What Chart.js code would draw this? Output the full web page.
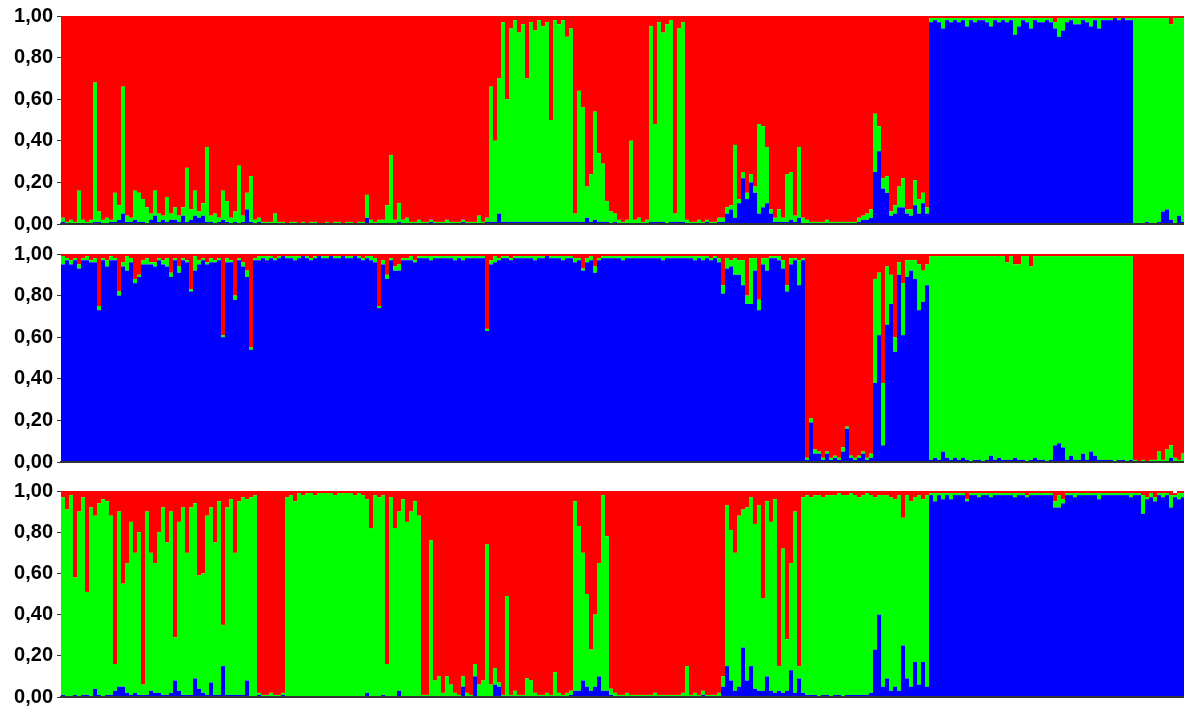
<!DOCTYPE html>
<html>
<head>
<meta charset="utf-8">
<script src="https://cdn.jsdelivr.net/npm/chart.js@4.4.1/dist/chart.umd.min.js"></script>
<style>
html,body{margin:0;padding:0;background:#fff;width:1184px;height:713px;overflow:hidden}
canvas{position:absolute;left:0}
</style>
</head>
<body>
<canvas id="c1" width="1185" height="240" style="top:0px"></canvas>
<canvas id="c2" width="1185" height="240" style="top:238px"></canvas>
<canvas id="c3" width="1185" height="238" style="top:475px"></canvas>
<script>
// Membership coefficients (in %) per individual, three clusters, three runs (panels)
const yTicks = ['0,00', '0,20', '0,40', '0,60', '0,80', '1,00'];

const p1Red = [
97,99,98,99,84,98,99,98,32,94,
98,97,98,85,91,34,96,97,84,85,
88,92,95,84,95,96,87,95,92,96,
92,73,93,84,94,90,63,96,95,97,
84,89,97,94,72,96,85,77,98,97,
99,99,99,95,99,99,100,99,99,100,
99,100,99,99,100,100,99,100,99,99,
100,99,99,100,99,99,86,98,99,98,
98,91,67,98,90,98,97,99,99,98,
99,99,98,99,99,99,98,99,99,99,
98,99,99,99,96,99,97,34,60,30,
3,40,6,2,8,4,30,3,7,2,
5,3,50,2,4,2,10,6,95,36,
44,82,76,46,66,71,89,94,95,98,
99,98,60,98,97,99,98,5,52,3,
8,4,2,95,6,3,98,99,99,98,
99,98,99,99,97,97,92,91,62,88,
75,85,76,82,52,53,63,93,97,93,
97,76,75,96,63,97,98,99,99,99,
99,98,99,99,99,99,99,99,99,97,
96,95,93,47,53,78,77,94,91,82,
78,93,93,79,88,85,92,1,1,1,
1,1,1,1,1,1,1,1,1,1,
1,1,1,1,1,1,1,1,1,1,
1,1,1,1,1,1,1,1,3,1,
1,1,1,1,1,1,1,1,1,1,
1,1,1,1,1,1,1,1,1,1,
1,1,1,1,1,1,1,4,1,1,1];
const p1Green = [
2,1,2,1,16,2,1,2,67,5,
2,3,1,14,7,61,3,2,14,14,
11,8,3,12,4,2,12,3,6,3,
4,26,5,12,3,6,36,3,5,2,
14,10,3,5,28,3,8,22,2,2,
1,1,1,5,1,1,0,1,1,0,
1,0,1,1,0,0,1,0,1,1,
0,1,1,0,1,1,11,2,1,2,
2,9,33,2,9,2,3,1,1,2,
1,1,1,1,1,1,2,1,1,1,
1,1,1,1,4,1,2,65,39,65,
96,59,93,97,91,95,69,96,92,97,
94,96,49,97,95,97,89,93,4,63,
55,15,23,52,33,28,10,6,4,2,
1,2,40,2,3,1,2,94,47,96,
91,96,97,4,93,96,2,1,1,2,
1,1,1,1,2,2,3,2,35,2,
3,3,4,3,43,39,27,2,2,6,
2,23,23,3,34,3,2,1,1,1,
1,2,1,1,1,1,1,1,1,2,
2,3,4,28,12,5,8,2,4,10,
14,2,3,12,7,5,3,2,1,2,
5,1,2,1,2,1,4,1,2,1,
1,2,4,1,2,1,2,1,8,4,
1,2,5,1,2,2,1,2,3,9,
6,2,1,3,3,1,2,4,1,5,
1,1,1,0,1,0,1,1,99,99,
99,98,99,99,98,93,92,94,99,95,98];
const p1Blue = [
1,0,0,0,0,0,0,0,1,1,
0,0,1,1,2,5,1,1,2,1,
1,0,2,4,1,2,1,2,2,1,
4,1,2,4,3,4,1,1,0,1,
2,1,0,1,0,1,7,1,0,1,
0,0,0,0,0,0,0,0,0,0,
0,0,0,0,0,0,0,0,0,0,
0,0,0,0,0,0,3,0,0,0,
0,0,0,0,1,0,0,0,0,0,
0,0,1,0,0,0,0,0,0,0,
1,0,0,0,0,0,1,1,1,5,
1,1,1,1,1,1,1,1,1,1,
1,1,1,1,1,1,1,1,1,1,
1,3,1,2,1,1,1,0,1,0,
0,0,0,0,0,0,0,1,1,1,
1,0,1,1,1,1,0,0,0,0,
0,1,0,0,1,1,5,7,3,10,
22,12,20,15,5,8,10,5,1,1,
1,1,2,1,3,0,0,0,0,0,
0,0,0,0,0,0,0,0,0,1,
2,2,3,25,35,17,15,4,5,8,
8,5,4,9,5,10,5,97,98,97,
94,98,97,98,97,98,95,98,97,98,
98,97,95,98,97,98,97,98,91,95,
98,97,94,98,97,97,98,97,94,90,
93,97,98,96,96,98,97,95,98,94,
98,98,98,99,98,99,98,98,0,0,
0,1,0,0,1,6,7,2,0,4,1];

const p2Red = [
1,2,3,2,5,2,1,3,2,25,
2,3,1,2,18,4,1,2,12,10,
3,2,4,4,2,3,2,9,2,6,
2,3,17,1,3,2,4,2,3,2,
39,2,3,20,2,4,8,45,2,1,
1,1,1,2,1,1,1,1,1,1,
1,1,2,1,1,1,1,1,1,1,
1,1,1,1,1,2,1,1,2,25,
3,10,2,6,5,2,2,1,3,1,
1,1,1,1,1,1,1,1,1,1,
1,1,1,1,1,1,36,3,1,2,
1,1,2,1,1,1,1,1,1,1,
1,1,1,1,1,1,1,1,2,2,
7,2,1,6,2,1,1,1,1,1,
1,1,1,1,1,1,1,1,1,1,
1,1,1,1,1,1,1,1,1,1,
1,1,2,1,2,15,2,3,2,3,
3,20,2,2,22,2,2,1,1,1,
3,15,2,2,3,2,98,79,94,95,
98,95,98,97,98,93,83,97,98,97,
95,98,96,12,9,62,6,10,40,4,
14,3,3,3,5,8,5,1,1,1,
1,1,1,1,1,1,1,1,1,1,
1,1,1,1,1,1,4,1,5,5,
1,1,6,1,1,1,1,1,1,1,
1,1,1,1,1,1,1,1,1,1,
1,1,1,1,1,1,1,1,99,100,
99,100,99,99,95,99,94,92,98,99,96];
const p2Green = [
4,1,2,1,2,1,2,1,2,2,
1,3,2,1,2,2,7,2,2,1,
2,3,1,2,1,2,4,2,1,3,
1,1,1,7,2,1,1,2,1,1,
1,2,1,2,1,2,3,1,1,2,
1,2,1,1,1,0,1,1,2,1,
0,1,1,1,0,1,1,0,1,1,
0,1,1,0,1,1,1,2,2,1,
2,2,1,2,3,1,1,2,1,1,
1,1,2,1,1,1,1,1,2,1,
2,1,1,1,1,1,1,2,3,1,
1,1,1,1,1,1,1,1,2,1,
1,0,1,1,1,2,1,1,2,1,
1,2,2,3,1,1,1,1,1,1,
2,1,1,1,1,1,1,1,1,1,
2,1,1,1,1,1,1,1,2,1,
2,1,1,1,2,4,5,3,8,7,
12,4,22,6,5,3,6,1,1,2,
4,3,3,1,12,1,1,2,2,1,
1,1,1,1,1,2,1,1,1,1,
1,1,2,50,30,30,28,14,7,6,
25,8,5,9,22,15,10,98,97,98,
94,97,98,97,98,97,98,99,98,98,
99,98,96,98,97,98,95,98,93,94,
98,99,93,97,98,98,99,98,91,90,
92,98,96,98,98,95,98,94,96,98,
98,98,98,99,98,98,99,98,1,0,
1,0,1,1,5,1,6,6,2,1,4];
const p2Blue = [
95,97,95,97,93,97,97,96,96,73,
97,94,97,97,80,94,92,96,86,89,
95,95,95,94,97,95,94,89,97,91,
97,96,82,92,95,97,95,96,96,97,
60,96,96,78,97,94,89,54,97,97,
98,97,98,97,98,99,98,98,97,98,
99,98,97,98,99,98,98,99,98,98,
99,98,98,99,98,97,98,97,96,74,
95,88,97,92,92,97,97,97,96,98,
98,98,97,98,98,98,98,98,97,98,
97,98,98,98,98,98,63,95,96,97,
98,98,97,98,98,98,98,98,97,98,
98,99,98,98,98,97,98,98,96,97,
92,96,97,91,97,98,98,98,98,98,
97,98,98,98,98,98,98,98,98,98,
97,98,98,98,98,98,98,98,97,98,
97,98,97,98,96,81,93,94,90,90,
85,76,76,92,73,95,92,98,98,97,
93,82,95,97,85,97,1,19,4,4,
1,4,1,2,1,5,16,2,1,2,
4,1,2,38,61,8,66,76,53,90,
61,89,92,88,73,77,85,1,2,1,
5,2,1,2,1,2,1,0,1,1,
0,1,3,1,2,1,1,1,2,1,
1,0,1,2,1,1,0,1,8,9,
7,1,3,1,1,4,1,5,3,1,
1,1,1,0,1,1,0,1,0,0,
0,0,0,0,0,0,0,2,0,0,0];

const p3Red = [
3,9,2,42,10,3,49,8,12,6,
4,5,12,84,10,45,35,15,30,20,
94,10,30,35,20,8,25,10,71,15,
8,30,8,6,41,40,12,8,25,5,
65,8,4,30,5,3,4,3,2,98,
99,99,98,99,99,98,3,2,5,1,
2,1,1,2,1,1,1,1,2,1,
1,1,1,2,1,2,4,18,2,3,
2,84,3,18,10,4,15,10,5,12,
99,99,24,92,90,98,90,94,98,99,
90,98,99,84,94,92,26,94,86,93,
99,51,99,97,99,99,91,92,98,99,
99,98,99,88,98,99,98,97,5,17,
30,50,77,60,35,2,22,96,98,99,
99,98,99,99,99,99,99,99,98,99,
99,99,99,99,99,98,85,99,98,99,
97,99,99,99,98,90,7,19,30,12,
9,8,3,16,7,52,5,15,4,85,
28,72,35,10,85,3,2,3,2,2,
3,2,2,2,1,2,2,1,2,3,
2,1,2,3,2,2,2,3,4,2,
13,2,5,3,2,4,2,1,1,1,
1,1,1,1,1,1,4,1,1,1,
1,1,1,1,1,1,1,1,1,1,
1,2,1,1,1,1,1,1,5,2,
4,1,1,1,1,1,1,1,1,1,
1,1,1,1,1,1,1,1,1,1,
2,3,1,3,1,1,1,2,1,1,1];
const p3Green = [
96,91,98,57,90,96,50,92,84,93,
96,94,87,13,85,50,63,84,68,79,
5,89,67,63,78,91,74,88,21,82,
91,69,91,85,55,58,87,85,74,94,
20,91,95,69,94,96,88,97,98,1,
1,1,2,1,1,1,97,98,95,99,
98,99,99,98,99,99,99,99,98,99,
99,99,99,98,99,98,94,82,98,97,
97,16,97,82,87,96,85,90,95,88,
1,1,76,8,10,2,10,6,2,1,
5,2,1,6,6,8,74,6,8,2,
1,49,1,3,1,1,9,8,2,1,
1,2,1,12,2,1,2,2,92,80,
62,45,20,35,55,95,75,3,2,1,
1,2,1,1,1,1,1,1,2,1,
1,1,1,1,1,2,15,1,2,1,
2,1,1,1,2,5,78,73,67,83,
67,84,82,80,90,45,85,82,94,12,
70,25,52,88,6,95,97,96,97,98,
96,97,98,97,98,98,97,98,97,96,
97,98,96,74,58,93,89,94,91,95,
62,89,90,80,92,79,93,1,4,1,
3,1,3,1,1,1,1,1,1,2,
1,1,2,1,1,1,1,1,2,1,
1,1,1,1,1,1,1,1,3,6,
2,1,1,2,1,1,1,1,1,3,
1,1,1,1,1,1,1,2,1,1,
9,1,2,2,1,2,1,6,1,3,2];
const p3Blue = [
1,0,0,1,0,1,1,0,4,1,
0,1,1,3,5,5,2,1,2,1,
1,1,3,2,2,1,1,2,8,3,
1,1,1,9,4,2,1,7,1,1,
15,1,1,1,1,1,8,0,0,1,
0,0,0,0,0,1,0,0,0,0,
0,0,0,0,0,0,0,0,0,0,
0,0,0,0,0,0,2,0,0,0,
1,0,0,0,3,0,0,0,0,0,
0,0,0,0,0,0,0,0,0,0,
5,0,0,10,0,0,0,0,6,5,
0,0,0,0,0,0,0,0,0,0,
0,0,0,0,0,0,0,1,3,3,
8,5,3,5,10,3,3,1,0,0,
0,0,0,0,0,0,0,0,0,0,
0,0,0,0,0,0,0,0,0,0,
1,0,0,0,0,5,15,8,3,5,
24,8,15,4,3,3,10,3,2,3,
2,3,13,2,9,2,1,1,1,0,
1,1,0,1,1,0,1,1,1,1,
1,1,2,23,40,5,9,3,5,3,
25,9,5,17,6,17,5,98,95,98,
96,98,96,98,98,98,95,98,98,97,
98,98,97,98,98,98,98,98,97,98,
98,97,98,98,98,98,98,98,92,92,
94,98,98,97,98,98,98,98,98,96,
98,98,98,98,98,98,98,97,98,98,
89,96,97,95,98,97,98,92,97,96,97];

const individuals = p1Red.map((_, i) => String(i + 1));

const panels = [
  { id: 'c1', red: p1Red, green: p1Green, blue: p1Blue, pad: { top: 14, bottom: 14 } },
  { id: 'c2', red: p2Red, green: p2Green, blue: p2Blue, pad: { top: 14, bottom: 15 } },
  { id: 'c3', red: p3Red, green: p3Green, blue: p3Blue, pad: { top: 14, bottom: 13 } }
];

panels.forEach(p => {
  const ds = (label, data, color) => ({
    label, data, backgroundColor: color, borderWidth: 0,
    barPercentage: 1, categoryPercentage: 1, inflateAmount: 0
  });
  new Chart(document.getElementById(p.id), {
    type: 'bar',
    data: {
      labels: individuals,
      datasets: [
        ds('Cluster 3', p.blue, '#0000FF'),
        ds('Cluster 2', p.green, '#00FF00'),
        ds('Cluster 1', p.red, '#FF0000')
      ]
    },
    options: {
      responsive: false,
      animation: false,
      events: [],
      layout: { padding: { top: p.pad.top, bottom: p.pad.bottom, left: 0, right: 0 } },
      plugins: { legend: { display: false }, tooltip: { enabled: false }, title: { display: false } },
      scales: {
        x: {
          stacked: true,
          ticks: { display: false },
          grid: { display: false, drawTicks: false },
          border: { display: true, color: '#333333', width: 2, z: 1 },
          afterFit: s => { s.height = 0; }
        },
        y: {
          stacked: true,
          min: 0, max: 100,
          ticks: {
            stepSize: 20,
            padding: 4,
            color: '#000000',
            font: { family: "'Liberation Sans', Arial, sans-serif", size: 20, weight: 'bold' },
            callback: v => yTicks[Math.round(v / 20)]
          },
          grid: { display: true, drawOnChartArea: false, drawTicks: true, tickLength: 4, color: '#333333' },
          border: { display: false },
          afterFit: s => { s.width = 61; }
        }
      }
    }
  });
});
</script>
</body>
</html>
